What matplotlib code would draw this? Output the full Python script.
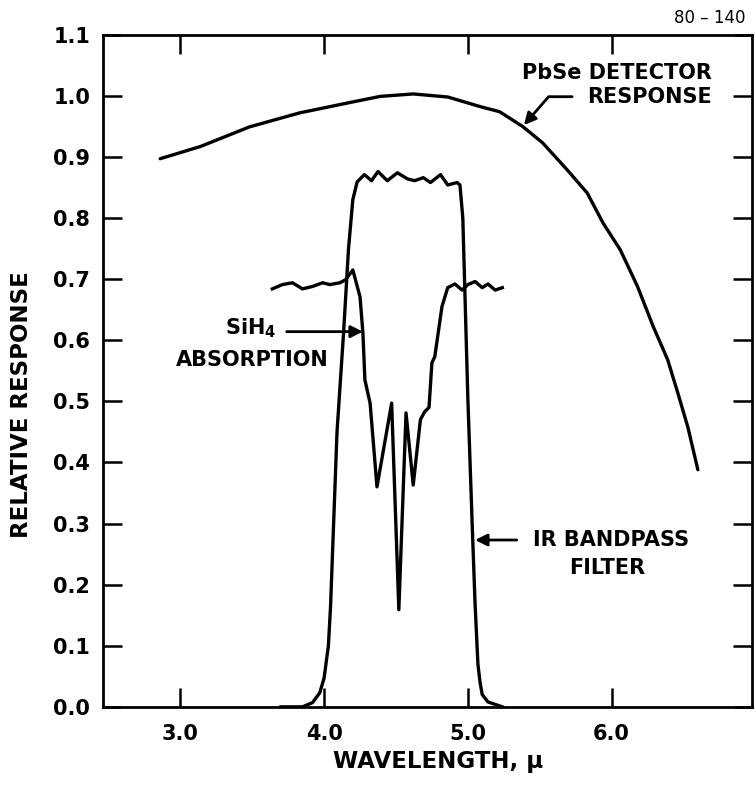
import numpy as np
import matplotlib
matplotlib.use('Agg')
import matplotlib.pyplot as plt

# PbSe detector response
pbse_x = [2.86, 3.14, 3.48, 3.83, 4.18, 4.39, 4.62, 4.86, 5.09, 5.22, 5.38, 5.52, 5.69, 5.83, 5.94, 6.06,
          6.18, 6.29, 6.39, 6.46, 6.53, 6.60]
pbse_y = [0.897, 0.917, 0.949, 0.972, 0.989, 0.999, 1.003, 0.998, 0.982, 0.974, 0.950, 0.923, 0.879, 0.841,
          0.792, 0.748, 0.688, 0.622, 0.568, 0.514, 0.458, 0.388]

# IR bandpass filter
filt_x = [3.70, 3.85, 3.92, 3.97, 4.00, 4.03, 4.045, 4.06, 4.09, 4.135, 4.17, 4.20, 4.23, 4.28, 4.33, 4.375,
          4.44, 4.51, 4.58, 4.63, 4.69, 4.74, 4.81, 4.86, 4.925, 4.945, 4.965, 5.00, 5.03, 5.05, 5.07, 5.085,
          5.10, 5.14, 5.24]
filt_y = [0.0, 0.0, 0.007, 0.023, 0.047, 0.10, 0.164, 0.26, 0.45, 0.61, 0.75, 0.83, 0.859, 0.871, 0.861, 0.876,
          0.861, 0.874, 0.864, 0.861, 0.866, 0.858, 0.871, 0.854, 0.858, 0.854, 0.80, 0.505, 0.30, 0.17, 0.07, 0.04,
          0.02, 0.008, 0.0]

# SiH4 absorption
sih_x = [3.64, 3.71, 3.78, 3.85, 3.92, 3.99, 4.04, 4.11, 4.15, 4.20, 4.25, 4.27, 4.284, 4.32, 4.368, 4.47,
         4.52, 4.57, 4.62, 4.67, 4.70, 4.73, 4.75, 4.77, 4.82, 4.86, 4.91, 4.96, 5.00, 5.05, 5.10, 5.14, 5.19, 5.24]
sih_y = [0.684, 0.691, 0.694, 0.684, 0.688, 0.694, 0.691, 0.694, 0.699, 0.715, 0.671, 0.612, 0.535, 0.497, 0.36, 0.497,
         0.159, 0.481, 0.363, 0.47, 0.483, 0.49, 0.563, 0.573, 0.655, 0.686, 0.692, 0.682, 0.691, 0.696, 0.686, 0.692,
         0.682, 0.686]

xticks = [3.0, 4.0, 5.0, 6.0]
yticks = [0.0, 0.1, 0.2, 0.3, 0.4, 0.5, 0.6, 0.7, 0.8, 0.9, 1.0, 1.1]

plt.rcParams['font.family'] = 'DejaVu Sans'
plt.rcParams['mathtext.default'] = 'bf'

fig = plt.figure(figsize=(7.56, 7.88), dpi=100)
ax = fig.add_axes([0.136, 0.103, 0.859, 0.853])

lw = 2.4
ax.plot(pbse_x, pbse_y, color='black', lw=lw, solid_capstyle='round', solid_joinstyle='round')
ax.plot(filt_x, filt_y, color='black', lw=lw, solid_joinstyle='round')
ax.plot(sih_x, sih_y, color='black', lw=lw, solid_joinstyle='round')

ax.set_xlim(2.461, 6.978)
ax.set_ylim(0, 1.1)
ax.set_xticks(xticks)
ax.set_xticklabels(['%.1f' % v for v in xticks])
ax.set_yticks(yticks)
ax.set_yticklabels(['%.1f' % v for v in yticks])
ax.tick_params(direction='in', length=14, width=1.8, top=True, right=True, labelsize=15)
ax.tick_params(axis='x', pad=12)
ax.tick_params(axis='y', pad=9)
for lab in ax.get_xticklabels() + ax.get_yticklabels():
    lab.set_fontweight('bold')
for s in ax.spines.values():
    s.set_linewidth(2.0)

fig.text(0.029, 0.486, 'RELATIVE RESPONSE', rotation=90, ha='center', va='center',
         fontsize=16.5, fontweight='bold')
fig.text(0.580, 0.033, 'WAVELENGTH, \u03bc', ha='center', va='center', fontsize=16.5, fontweight='bold')
fig.text(0.939, 0.977, '80 \u2013 140', ha='center', va='center', fontsize=12)

tkw = dict(fontsize=15, fontweight='bold', color='black')
ax.text(6.70, 1.038, 'PbSe DETECTOR', ha='right', va='center', **tkw)
ax.text(6.70, 0.9985, 'RESPONSE', ha='right', va='center', **tkw)
ax.annotate('', xy=(5.39, 0.952), xytext=(5.725, 0.9985),
            arrowprops=dict(arrowstyle='-|>', color='black', lw=2, mutation_scale=18,
                            shrinkA=0, shrinkB=0,
                            connectionstyle='angle,angleA=180,angleB=49,rad=0'))

ax.text(3.67, 0.620, 'SiH$_4$', ha='right', va='center', **tkw)
ax.text(3.50, 0.568, 'ABSORPTION', ha='center', va='center', **tkw)
ax.annotate('', xy=(4.27, 0.614), xytext=(3.74, 0.614),
            arrowprops=dict(arrowstyle='-|>', color='black', lw=2, mutation_scale=18,
                            shrinkA=0, shrinkB=0))

ax.text(5.996, 0.273, 'IR BANDPASS', ha='center', va='center', **tkw)
ax.text(5.97, 0.2275, 'FILTER', ha='center', va='center', **tkw)
ax.annotate('', xy=(5.05, 0.273), xytext=(5.34, 0.273),
            arrowprops=dict(arrowstyle='-|>', color='black', lw=2, mutation_scale=18,
                            shrinkA=0, shrinkB=0))

fig.savefig('out.png', dpi=100)
